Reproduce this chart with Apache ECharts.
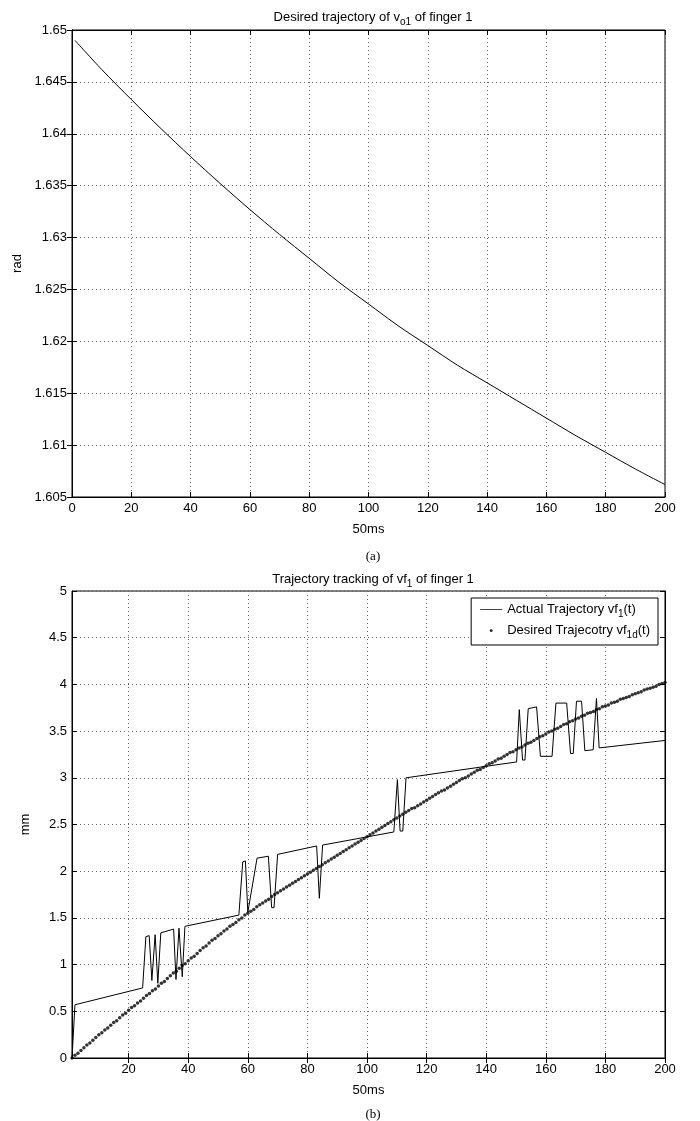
<!DOCTYPE html>
<html>
<head>
<meta charset="utf-8">
<script src="https://cdn.jsdelivr.net/npm/echarts@6/dist/echarts.min.js"></script>
<style>
html,body{margin:0;padding:0;background:#fff;}
#main{width:700px;height:1121px;}
</style>
</head>
<body>
<div id="main"></div>
<script>
// (a) desired trajectory of v_o1
var stepsA = [1,10,20,30,40,50,60,70,80,90,100,110,120,130,140,150,160,170,180,190,200];
var radA = [1.6490,1.6462,1.6433,1.6405,1.6378,1.6352,1.6327,1.6303,1.6280,1.6257,1.6236,
  1.6215,1.6196,1.6177,1.6160,1.6143,1.6126,1.6109,1.6093,1.6077,1.6062];

// (b) desired trajectory vf_1d(t), one dot per step 1..200
var desiredB = [
  0.00,0.03,0.05,0.08,0.11,0.14,0.16,0.19,0.22,0.25,
  0.27,0.30,0.32,0.35,0.38,0.40,0.43,0.46,0.48,0.51,
  0.54,0.56,0.59,0.61,0.64,0.67,0.69,0.72,0.74,0.77,
  0.80,0.82,0.85,0.88,0.91,0.93,0.96,0.99,1.01,1.04,
  1.07,1.09,1.12,1.15,1.18,1.20,1.23,1.26,1.28,1.31,
  1.33,1.36,1.38,1.41,1.43,1.45,1.48,1.50,1.53,1.55,
  1.57,1.59,1.62,1.64,1.66,1.68,1.70,1.73,1.75,1.77,
  1.79,1.81,1.83,1.85,1.87,1.89,1.91,1.93,1.95,1.97,
  1.99,2.01,2.03,2.05,2.07,2.09,2.11,2.13,2.15,2.17,
  2.19,2.21,2.23,2.25,2.27,2.29,2.31,2.33,2.35,2.37,
  2.39,2.41,2.43,2.45,2.47,2.49,2.51,2.53,2.55,2.57,
  2.59,2.61,2.63,2.65,2.67,2.68,2.70,2.72,2.74,2.76,
  2.78,2.80,2.82,2.84,2.86,2.87,2.89,2.91,2.93,2.95,
  2.97,2.99,3.00,3.02,3.04,3.06,3.08,3.09,3.11,3.13,
  3.15,3.16,3.18,3.20,3.21,3.23,3.25,3.27,3.28,3.30,
  3.32,3.33,3.35,3.37,3.38,3.40,3.42,3.44,3.45,3.47,
  3.49,3.50,3.52,3.53,3.55,3.57,3.58,3.60,3.61,3.63,
  3.64,3.66,3.67,3.69,3.70,3.71,3.73,3.74,3.76,3.77,
  3.78,3.80,3.81,3.82,3.84,3.85,3.86,3.87,3.89,3.90,
  3.91,3.92,3.94,3.95,3.96,3.97,3.98,4.00,4.01,4.02
];

// (b) actual trajectory vf_1(t): corner points of the polyline
var actualT = [1,2,24.7,25.8,26.9,27.8,28.9,29.8,30.8,35.1,35.9,36.9,38.0,38.9,
  57.0,58.3,59.2,60.0,63.1,66.9,68.0,68.8,70.0,83.1,84.0,85.1,
  109.0,110.2,111.1,112.0,113.1,150.2,151.1,152.2,153.0,154.1,156.9,158.2,162.1,
  163.4,167.0,168.3,169.2,170.3,172.0,173.1,175.9,177.0,177.9,200];
var actualV = [0.00,0.57,0.75,1.30,1.31,0.83,1.32,0.80,1.34,1.38,0.84,1.39,0.87,1.41,
  1.53,2.10,2.11,1.56,2.14,2.16,1.61,1.61,2.18,2.27,1.71,2.28,
  2.42,2.98,2.43,2.43,3.00,3.17,3.73,3.19,3.19,3.74,3.76,3.23,3.23,
  3.80,3.80,3.26,3.26,3.82,3.82,3.29,3.30,3.85,3.32,3.40];

var ticksB = [20,40,60,80,100,120,140,160,180,200];

var FONT = "'Liberation Sans', Arial, Helvetica, sans-serif";
var SERIF = "'Liberation Serif', 'Times New Roman', serif";

var subRich = {
  t: {fontFamily: FONT, fontSize: 13, fontWeight: 'normal', color: '#000'},
  s: {fontFamily: FONT, fontSize: 10, fontWeight: 'normal', color: '#000', padding: [9, 0, 0, 0]}
};

function pairs(xs, ys) {
  var out = [];
  for (var i = 0; i < xs.length; i++) out.push([xs[i], ys[i]]);
  return out;
}
var desiredPts = desiredB.map(function (v, i) { return [i + 1, v]; });

var labelStyle = {color: '#000', fontFamily: FONT, fontSize: 13, margin: 5};
var nameStyle = {color: '#000', fontFamily: FONT, fontSize: 13};
var gridLine = {show: true, lineStyle: {color: '#666', type: [1, 3], width: 1}};
var tickIn = {show: true, inside: true, length: 5, lineStyle: {color: '#000'}};
var lineBlack = {show: true, lineStyle: {color: '#000', width: 1}};

var myChart = echarts.init(document.getElementById('main'), null, {renderer: 'canvas'});
var option = {
  backgroundColor: '#fff',
  animation: false,
  textStyle: {fontFamily: FONT},
  title: [
    {text: '{t|Desired trajectory of v}{s|o1}{t| of finger 1}', left: 368, top: 3, textAlign: 'center',
      textStyle: {fontWeight: 'normal', rich: subRich}},
    {text: '(a)', left: 368, top: 545, textAlign: 'center',
      textStyle: {fontFamily: SERIF, fontSize: 13, fontWeight: 'normal', color: '#000'}},
    {text: '{t|Trajectory tracking of vf}{s|1}{t| of finger 1}', left: 368, top: 565, textAlign: 'center',
      textStyle: {fontWeight: 'normal', rich: subRich}},
    {text: '(b)', left: 368, top: 1103, textAlign: 'center',
      textStyle: {fontFamily: SERIF, fontSize: 13, fontWeight: 'normal', color: '#000'}}
  ],
  legend: {
    data: [
      {name: 'actual', icon: 'path://M0,0H22V1H0Z', itemStyle: {color: '#444'}},
      {name: 'desired', icon: 'circle'}
    ],
    orient: 'vertical',
    right: 42, top: 598,
    padding: [5, 8, 5, 9],
    itemGap: 5, itemWidth: 22, itemHeight: 3,
    symbolKeepAspect: true,
    borderColor: '#000', borderWidth: 1, borderRadius: 0,
    backgroundColor: '#fff',
    formatter: function (n) {
      return n === 'actual' ? '{t|Actual Trajectory vf}{s|1}{t|(t)}' : '{t|Desired Trajecotry vf}{s|1d}{t|(t)}';
    },
    textStyle: {rich: {
      t: {fontFamily: FONT, fontSize: 13, color: '#000', lineHeight: 14},
      s: {fontFamily: FONT, fontSize: 10, color: '#000', padding: [9, 0, 0, 0]}
    }}
  },
  grid: [
    {left: 72, top: 30, width: 593, height: 467, show: true, borderColor: '#000', borderWidth: 1, outerBoundsMode: 'none'},
    {left: 72, top: 591, width: 593, height: 467, show: true, borderColor: '#000', borderWidth: 1, outerBoundsMode: 'none'}
  ],
  xAxis: [
    {gridIndex: 0, type: 'value', min: 0, max: 200, interval: 20, position: 'bottom',
      name: '50ms', nameLocation: 'middle', nameGap: 26, nameTextStyle: nameStyle,
      axisLine: lineBlack, axisTick: tickIn, axisLabel: labelStyle, splitLine: gridLine},
    {gridIndex: 0, type: 'value', min: 0, max: 200, interval: 20, position: 'top',
      axisLine: lineBlack, axisTick: tickIn, axisLabel: {show: false}, splitLine: {show: false}},
    {gridIndex: 1, type: 'value', min: 1, max: 200, position: 'bottom',
      name: '50ms', nameLocation: 'middle', nameGap: 26, nameTextStyle: nameStyle,
      axisLine: lineBlack,
      axisTick: {show: true, inside: true, length: 5, lineStyle: {color: '#000'}, customValues: ticksB},
      axisLabel: {color: '#000', fontFamily: FONT, fontSize: 13, margin: 5, customValues: ticksB},
      splitLine: gridLine},
    {gridIndex: 1, type: 'value', min: 1, max: 200, position: 'top',
      axisLine: lineBlack,
      axisTick: {show: true, inside: true, length: 5, lineStyle: {color: '#000'}, customValues: ticksB},
      axisLabel: {show: false}, splitLine: {show: false}}
  ],
  yAxis: [
    {gridIndex: 0, type: 'value', min: 1.605, max: 1.65, interval: 0.005, position: 'left',
      name: 'rad', nameLocation: 'middle', nameGap: 45, nameRotate: 90, nameTextStyle: nameStyle,
      axisLine: lineBlack, axisTick: tickIn,
      axisLabel: {color: '#000', fontFamily: FONT, fontSize: 13, margin: 5,
        formatter: function (v) { return String(+v.toFixed(3)); }},
      splitLine: gridLine},
    {gridIndex: 0, type: 'value', min: 1.605, max: 1.65, interval: 0.005, position: 'right',
      axisLine: lineBlack, axisTick: tickIn, axisLabel: {show: false}, splitLine: {show: false}},
    {gridIndex: 1, type: 'value', min: 0, max: 5, interval: 0.5, position: 'left',
      name: 'mm', nameLocation: 'middle', nameGap: 40, nameRotate: 90, nameTextStyle: nameStyle,
      axisLine: lineBlack, axisTick: tickIn, axisLabel: labelStyle, splitLine: gridLine},
    {gridIndex: 1, type: 'value', min: 0, max: 5, interval: 0.5, position: 'right',
      axisLine: lineBlack, axisTick: tickIn, axisLabel: {show: false}, splitLine: {show: false}}
  ],
  series: [
    {type: 'line', xAxisIndex: 0, yAxisIndex: 0, data: pairs(stepsA, radA), smooth: 0.3,
      symbol: 'none', lineStyle: {color: '#000', width: 1}, silent: true},
    {name: 'actual', type: 'line', xAxisIndex: 2, yAxisIndex: 2, data: pairs(actualT, actualV),
      symbol: 'none', color: '#000', lineStyle: {color: '#000', width: 1}, silent: true},
    {name: 'desired', type: 'scatter', xAxisIndex: 2, yAxisIndex: 2, data: desiredPts,
      symbol: 'circle', symbolSize: 3.5, itemStyle: {color: '#000'}, silent: true}
  ]
};
myChart.setOption(option);
</script>
</body>
</html>
